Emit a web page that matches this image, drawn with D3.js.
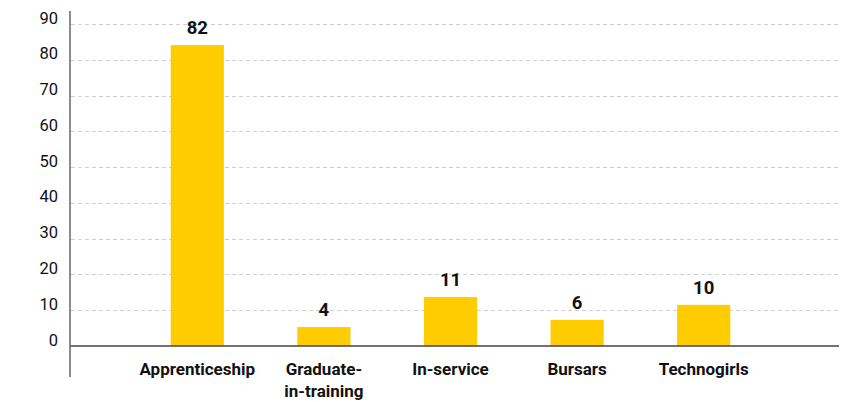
<!DOCTYPE html>
<html>
<head>
<meta charset="utf-8">
<script src="https://cdn.jsdelivr.net/npm/d3@7"></script>
<style>
  html, body { margin: 0; padding: 0; background: #fff; }
  svg { display: block; }
</style>
</head>
<body>
<svg id="chart" width="845" height="402"></svg>
<script>
// Data
const categories = ["Apprenticeship", "Graduate-\nin-training", "In-service", "Bursars", "Technogirls"];
const barValues = [84.1, 5.3, 13.7, 7.3, 11.5];   // bar heights as drawn
const valueLabels = ["82", "4", "11", "6", "10"];  // printed labels
const yTicks = [0, 10, 20, 30, 40, 50, 60, 70, 80, 90];

const svg = d3.select("#chart");
const font = "Roboto, 'Open Sans', sans-serif";

const y = d3.scaleLinear().domain([0, 90]).range([346, 24]);
const x = d3.scaleBand().domain(categories).range([134, 767])
  .paddingInner(0.58).paddingOuter(0.29);

const axisLeftX = 70, axisRightX = 839;

// gridlines
svg.append("g").selectAll("line").data(yTicks.filter(d => d > 0)).join("line")
  .attr("x1", axisLeftX + 1).attr("x2", axisRightX)
  .attr("y1", d => Math.round(y(d)) + 0.5).attr("y2", d => Math.round(y(d)) + 0.5)
  .attr("stroke", "#d0d0d0").attr("stroke-width", 1).attr("stroke-dasharray", "4,3");

// y tick labels
svg.append("g").selectAll("text").data(yTicks).join("text")
  .attr("x", 58).attr("y", d => y(d) - 0.5)
  .attr("text-anchor", "end")
  .attr("font-family", font).attr("font-size", 16.5).attr("fill", "#111")
  .text(d => d);

// bars
svg.append("g").selectAll("rect").data(barValues).join("rect")
  .attr("x", (d, i) => x(categories[i]))
  .attr("width", x.bandwidth())
  .attr("y", d => y(d))
  .attr("height", d => y(0) - y(d))
  .attr("fill", "#FFCC00");

// value labels
svg.append("g").selectAll("text").data(barValues).join("text")
  .attr("x", (d, i) => x(categories[i]) + x.bandwidth() / 2)
  .attr("y", d => y(d) - 11)
  .attr("text-anchor", "middle")
  .attr("font-family", font).attr("font-size", 18.5).attr("font-weight", "bold").attr("fill", "#111")
  .text((d, i) => valueLabels[i]);

// x axis line
svg.append("line")
  .attr("x1", axisLeftX).attr("x2", axisRightX)
  .attr("y1", 346).attr("y2", 346)
  .attr("stroke", "#444").attr("stroke-width", 1.5);

// y axis line
svg.append("line")
  .attr("x1", axisLeftX).attr("x2", axisLeftX)
  .attr("y1", 11).attr("y2", 377)
  .attr("stroke", "#666").attr("stroke-width", 1.5);

// category labels
const cat = svg.append("g").selectAll("text").data(categories).join("text")
  .attr("x", d => x(d) + x.bandwidth() / 2)
  .attr("y", 375)
  .attr("text-anchor", "middle")
  .attr("font-family", font).attr("font-size", 17).attr("font-weight", "bold").attr("fill", "#111");
cat.each(function(d) {
  const lines = d.split("\n");
  d3.select(this).selectAll("tspan").data(lines).join("tspan")
    .attr("x", x(d) + x.bandwidth() / 2)
    .attr("dy", (l, i) => i === 0 ? 0 : 21.5)
    .text(l => l);
});
</script>
</body>
</html>
